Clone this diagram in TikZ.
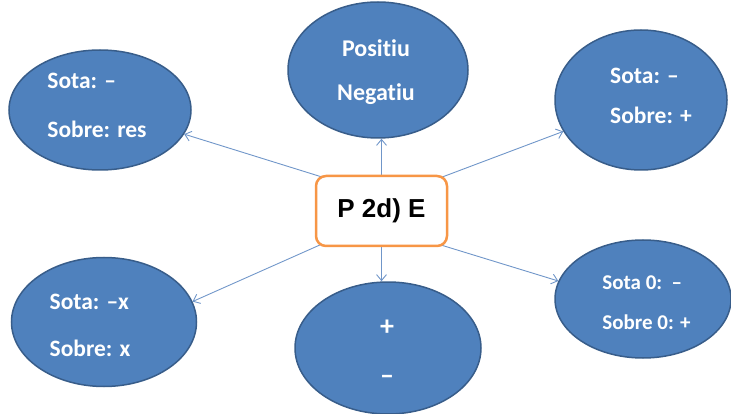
\documentclass[tikz,border=0pt]{standalone}
\usepackage{fontspec}
\setmainfont{Carlito}[Ligatures=NoCommon]
\newfontfamily\hubfont{Liberation Sans}
\usetikzlibrary{shapes.geometric,arrows.meta,calc}
\definecolor{bubblefill}{HTML}{4F81BD}
\definecolor{bubbleedge}{HTML}{385D8A}
\definecolor{linkcol}{HTML}{7096C9}
\definecolor{hubedge}{HTML}{F79646}
\pgfdeclarelayer{bg}
\pgfsetlayers{bg,main}
\begin{document}
\begin{tikzpicture}[x=1pt,y=-1pt,
  bubble/.style={ellipse, draw=bubbleedge, fill=bubblefill, line width=1.5pt, inner sep=0pt},
  bubbletext/.style={text=white, inner sep=0pt, align=left,
    font=\bfseries\fontsize{23.5}{#1}\selectfont},
  bubbletext/.default=47,
  hub/.style={rectangle, rounded corners=10pt, draw=hubedge, fill=white, line width=2.5pt,
    minimum width=131pt, minimum height=70pt, inner sep=0pt,
    font=\hubfont\bfseries\fontsize{26}{30}\selectfont},
  link/.style={draw=linkcol, line width=0.9pt, -{Straight Barb[length=6pt,width=10pt]}}]

\useasboundingbox (0,0) rectangle (731,414);

% outer bubbles
\node[bubble, minimum width=182pt, minimum height=120pt] (tl) at (100,110) {};
\node[bubble, minimum width=180pt, minimum height=136pt] (t)  at (378,70)  {};
\node[bubble, minimum width=172pt, minimum height=140pt] (tr) at (641,100) {};
\node[bubble, minimum width=185pt, minimum height=129pt] (bl) at (104,322) {};
\node[bubble, minimum width=186pt, minimum height=132pt] (b)  at (388,348) {};
\node[bubble, minimum width=176pt, minimum height=118pt] (br) at (643,299) {};

% bubble texts
\node[bubbletext=49] (tl-txt) at (97,105) {Sota: –\\Sobre: res};
\node[bubbletext=40] (tr-txt) at (651,95.5) {Sota: –\\Sobre: +};
\node[bubbletext=47] (bl-txt) at (90,325) {Sota: –x\\Sobre: x};
\node[text=white, inner sep=0pt, align=left, font=\bfseries\fontsize{21}{40}\selectfont]
  (br-txt) at (646.5,302.5) {Sota 0:\ \ –\\Sobre 0: +};
\node[text=white, inner sep=0pt, align=center, font=\bfseries\fontsize{24}{44}\selectfont]
  (t-txt) at (376,72.5) {Positiu\\Negatiu};
\node[text=white, inner sep=0pt, align=center, font=\bfseries\fontsize{28}{49.5}\selectfont]
  (b-txt) at (387,352) {+\\–};

% central box
\node[hub] (c) at (381.5,211) {P 2d) E};

% connectors, drawn beneath the central box
\begin{pgfonlayer}{bg}
  \draw[link] ($(c.north west)!-8pt!(tl.-16)$) -- (tl.-16);
  \draw[link] ($(c.north east)!-8pt!(tr.-158)$) -- (tr.-158);
  \draw[link] ($(c.south west)!-8pt!(bl.13)$) -- (bl.13);
  \draw[link] ($(c.south east)!-8pt!(br.168)$) -- (br.168);
  \draw[link] (c.north) -- (c.north |- t.south);
  \draw[link] (c.south) -- (c.south |- b.north);
\end{pgfonlayer}
\end{tikzpicture}
\end{document}
